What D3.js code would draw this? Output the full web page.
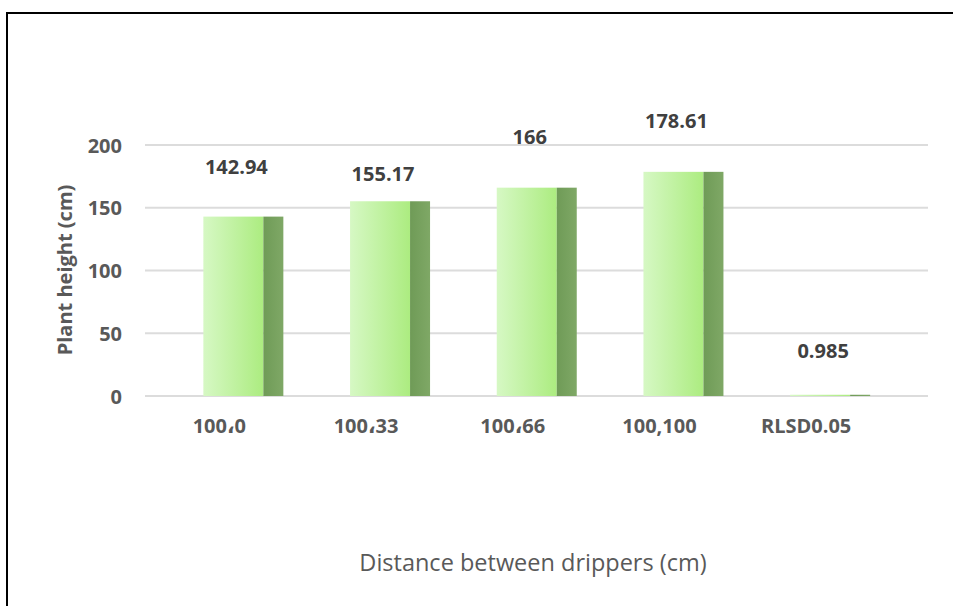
<!DOCTYPE html>
<html>
<head>
<meta charset="utf-8">
<script src="https://cdn.jsdelivr.net/npm/d3@7"></script>
<style>
  html, body { margin: 0; padding: 0; background: #fff; }
  svg { display: block; }
</style>
</head>
<body>
<svg id="chart" width="953" height="606"></svg>
<script>
// Plant height by distance between drippers
const categories = ["100\u060C0", "100\u060C33", "100\u060C66", "100,100", "RLSD0.05"];
const heights = [142.94, 155.17, 166, 178.61, 0.985];
const valueLabels = ["142.94", "155.17", "166", "178.61", "0.985"];
const yTicks = [0, 50, 100, 150, 200];

// how far each value label sits above its bar top (px)
const labelLift = [44, 21, 45, 45, 38];

const W = 953, H = 606;
const svg = d3.select("#chart");
const font = "'Open Sans', 'DejaVu Sans', sans-serif";

const defs = svg.append("defs");
const face = defs.append("linearGradient").attr("id", "face")
  .attr("x1", "0%").attr("x2", "100%").attr("y1", "0%").attr("y2", "0%");
face.append("stop").attr("offset", "0%").attr("stop-color", "#d6f8c4");
face.append("stop").attr("offset", "100%").attr("stop-color", "#acec80");
const side = defs.append("linearGradient").attr("id", "side")
  .attr("x1", "0%").attr("x2", "100%").attr("y1", "0%").attr("y2", "0%");
side.append("stop").attr("offset", "0%").attr("stop-color", "#6f9b57");
side.append("stop").attr("offset", "100%").attr("stop-color", "#7fa866");

// frame
svg.append("line").attr("x1", 7).attr("x2", W).attr("y1", 13).attr("y2", 13)
  .attr("stroke", "#000").attr("stroke-width", 2);
svg.append("line").attr("x1", 7).attr("x2", 7).attr("y1", 12).attr("y2", H)
  .attr("stroke", "#000").attr("stroke-width", 2);

const y = d3.scaleLinear().domain([0, 200]).range([396, 145]);
const x = d3.scaleBand().domain(categories).range([146, 879.5]).paddingInner(0).paddingOuter(0);

const gridLeft = 145, gridRight = 928;

// gridlines
svg.append("g").selectAll("line").data(yTicks).join("line")
  .attr("x1", gridLeft).attr("x2", gridRight)
  .attr("y1", d => y(d)).attr("y2", d => y(d))
  .attr("stroke", "#dcdcdc").attr("stroke-width", 2);

// y axis tick labels
const yAxis = d3.axisLeft(y).tickValues(yTicks).tickSize(0).tickPadding(0);
const gy = svg.append("g").attr("transform", "translate(122,0)").call(yAxis);
gy.select(".domain").remove();
gy.selectAll("text").attr("font-family", font).attr("font-size", 20)
  .attr("font-weight", "bold").attr("fill", "#595959").attr("dy", "0.35em");

// x axis category labels
const xAxis = d3.axisBottom(x).tickSize(0).tickPadding(0);
const gx = svg.append("g").attr("transform", "translate(0,426)").call(xAxis);
gx.select(".domain").remove();
gx.selectAll("text").attr("font-family", font).attr("font-size", 20)
  .attr("font-weight", "bold").attr("fill", "#595959").attr("dy", "0.35em");

// bars: front face plus darker side
const faceW = 60, sideW = 20;
const barX = d => x(d) + x.bandwidth() / 2 - 16;
const bars = svg.append("g").selectAll("g").data(categories).join("g");
bars.append("rect")
  .attr("x", d => barX(d))
  .attr("y", (d, i) => y(heights[i]))
  .attr("width", faceW)
  .attr("height", (d, i) => y(0) - y(heights[i]))
  .attr("fill", "url(#face)");
bars.append("rect")
  .attr("x", d => barX(d) + faceW)
  .attr("y", (d, i) => y(heights[i]))
  .attr("width", sideW)
  .attr("height", (d, i) => y(0) - y(heights[i]))
  .attr("fill", "url(#side)");

// value labels
svg.append("g").selectAll("text").data(categories).join("text")
  .attr("x", d => barX(d) + 33)
  .attr("y", (d, i) => y(heights[i]) - labelLift[i] + 1)
  .attr("text-anchor", "middle")
  .attr("font-family", font).attr("font-size", 20).attr("font-weight", "bold")
  .attr("fill", "#404040")
  .text((d, i) => valueLabels[i]);

// axis titles
svg.append("text")
  .attr("transform", "translate(72,270) rotate(-90)")
  .attr("text-anchor", "middle")
  .attr("font-family", font).attr("font-size", 20).attr("font-weight", "bold")
  .attr("fill", "#595959")
  .text("Plant height (cm)");

svg.append("text")
  .attr("x", 533).attr("y", 571)
  .attr("text-anchor", "middle")
  .attr("font-family", font).attr("font-size", 23.5)
  .attr("fill", "#595959")
  .text("Distance between drippers (cm)");
</script>
</body>
</html>
